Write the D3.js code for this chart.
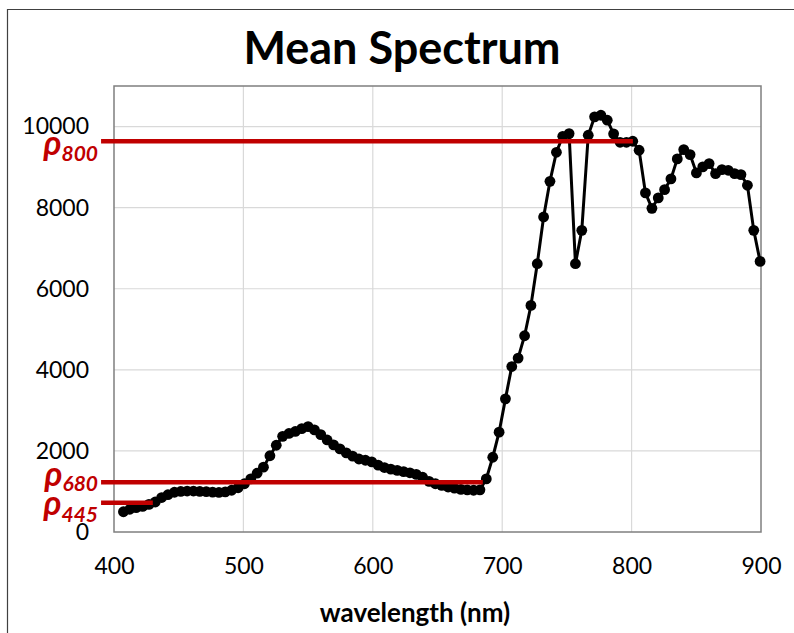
<!DOCTYPE html>
<html><head><meta charset="utf-8">
<script src="https://cdn.jsdelivr.net/npm/d3@7"></script>
<style>
html,body{margin:0;padding:0;background:#fff;}
svg{display:block;}
</style></head>
<body>
<script>
// ---- data ----
const wavelengths = [407.3,412.2,417.1,422.1,427.0,431.9,436.8,441.7,446.7,451.6,
456.5,461.4,466.3,471.3,476.2,481.1,486.0,490.9,495.9,500.8,
505.7,510.6,515.5,520.5,525.4,530.3,535.2,540.1,545.1,550.0,
554.9,559.8,564.7,569.7,574.6,579.5,584.4,589.3,594.3,599.2,
604.1,609.0,613.9,618.9,623.8,628.7,633.6,638.5,643.5,648.4,
653.3,658.2,663.1,668.1,673.0,677.9,682.8,687.7,692.7,697.6,
702.5,707.4,712.3,717.3,722.2,727.1,732.0,736.9,741.9,746.8,
751.7,756.6,761.5,766.5,771.4,776.3,781.2,786.1,791.1,796.0,
800.9,805.8,810.7,815.7,820.6,825.5,830.4,835.3,840.3,845.2,
850.1,855.0,859.9,864.9,869.8,874.7,879.6,884.5,889.5,894.4,899.3];
const reflectance = [500,560,600,630,680,740,850,920,980,1000,
1010,1010,1000,995,985,975,990,1030,1090,1190,
1310,1450,1600,1880,2140,2360,2430,2480,2550,2600,
2520,2400,2270,2150,2050,1950,1870,1800,1770,1730,
1650,1590,1550,1520,1490,1460,1420,1350,1250,1190,
1150,1110,1080,1050,1040,1030,1040,1309,1844,2462,
3284,4081,4289,4840,5588,6617,7770,8649,9365,9760,
9827,6617,7440,9785,10240,10279,10156,9820,9612,9612,
9637,9415,8363,7983,8240,8444,8709,9202,9432,9309,
8857,9005,9086,8840,8938,8921,8840,8815,8551,7440,6674];
const xTicks = [400,500,600,700,800,900];
const yTicks = [0,2000,4000,6000,8000,10000];
const refBands = ["800","680","445"];
const refValues = [9637,1227,723];
const refEnds = [801,685,430];
const title = "Mean Spectrum";
const xTitle = "wavelength (nm)";

// ---- drawing ----
const W = 794, H = 633;
const svg = d3.select("body").append("svg").attr("width",W).attr("height",H);
const font = "Lato, 'Open Sans', sans-serif";

// outer frame (left + top)
svg.append("path").attr("d",`M7.5,${H} V9.5 H${W}`)
  .attr("fill","none").attr("stroke","#404040").attr("stroke-width",1.2);

const x = d3.scaleLinear().domain([400,900]).range([114,761]);
const y = d3.scaleLinear().domain([0,11000]).range([532,86]);

// grid
const grid = svg.append("g");
grid.selectAll("line.h").data(yTicks.filter(d=>d>0)).join("line")
  .attr("x1",x(400)).attr("x2",x(900)).attr("y1",d=>y(d)).attr("y2",d=>y(d))
  .attr("stroke","#d9d9d9").attr("stroke-width",1.2);
grid.selectAll("line.v").data(xTicks.filter(d=>d>400&&d<900)).join("line")
  .attr("x1",d=>x(d)).attr("x2",d=>x(d)).attr("y1",y(0)).attr("y2",y(11000))
  .attr("stroke","#d9d9d9").attr("stroke-width",1.2);

// axes labels
const yAxis = svg.append("g").attr("transform",`translate(${x(400)},0)`)
  .call(d3.axisLeft(y).tickValues(yTicks).tickSize(0).tickPadding(25).tickFormat(d3.format("d")));
yAxis.select(".domain").remove();
yAxis.selectAll("text").attr("font-family",font).attr("font-size",23).attr("fill","#000");

const xAxis = svg.append("g").attr("transform",`translate(0,${y(0)})`)
  .call(d3.axisBottom(x).tickValues(xTicks).tickSize(0).tickPadding(26).tickFormat(d3.format("d")));
xAxis.select(".domain").remove();
xAxis.selectAll("text").attr("font-family",font).attr("font-size",23).attr("fill","#000");

// plot frame
svg.append("rect").attr("x",x(400)).attr("y",y(11000))
  .attr("width",x(900)-x(400)).attr("height",y(0)-y(11000))
  .attr("fill","none").attr("stroke","#7f7f7f").attr("stroke-width",1.5);

// series
const pts = wavelengths.map((w,i)=>({w, v:reflectance[i]}));
svg.append("path").datum(pts)
  .attr("d",d3.line().x(d=>x(d.w)).y(d=>y(d.v)))
  .attr("fill","none").attr("stroke","#000").attr("stroke-width",3);
svg.append("g").selectAll("circle").data(pts).join("circle")
  .attr("cx",d=>x(d.w)).attr("cy",d=>y(d.v)).attr("r",5.4).attr("fill","#000");

// reference lines
const refG = svg.append("g");
refBands.forEach((b,i)=>{
  refG.append("line").attr("x1",x(390)).attr("x2",x(refEnds[i]))
    .attr("y1",y(refValues[i])).attr("y2",y(refValues[i]))
    .attr("stroke","#c00000").attr("stroke-width",4.5);
});
const labelOffsets = [[14,20],[4,8.5],[12,19]];
refBands.forEach((b,i)=>{
  const yy = y(refValues[i]);
  const t = svg.append("text").attr("font-family",font).attr("font-weight","bold")
    .attr("font-style","italic").attr("fill","#c00000")
    .attr("x",98).attr("y",yy+labelOffsets[i][0]).attr("text-anchor","end");
  t.append("tspan").attr("font-size",34).text("ρ");
  t.append("tspan").attr("font-size",21)
    .attr("dy",labelOffsets[i][1]-labelOffsets[i][0]).text(b);
});

// titles
svg.append("text").attr("x",402).attr("y",64).attr("text-anchor","middle")
  .attr("font-family",font).attr("font-weight","bold").attr("font-size",45).text(title);
svg.append("text").attr("x",415).attr("y",622).attr("text-anchor","middle")
  .attr("font-family",font).attr("font-weight","bold").attr("font-size",26).text(xTitle);
</script>
</body></html>
